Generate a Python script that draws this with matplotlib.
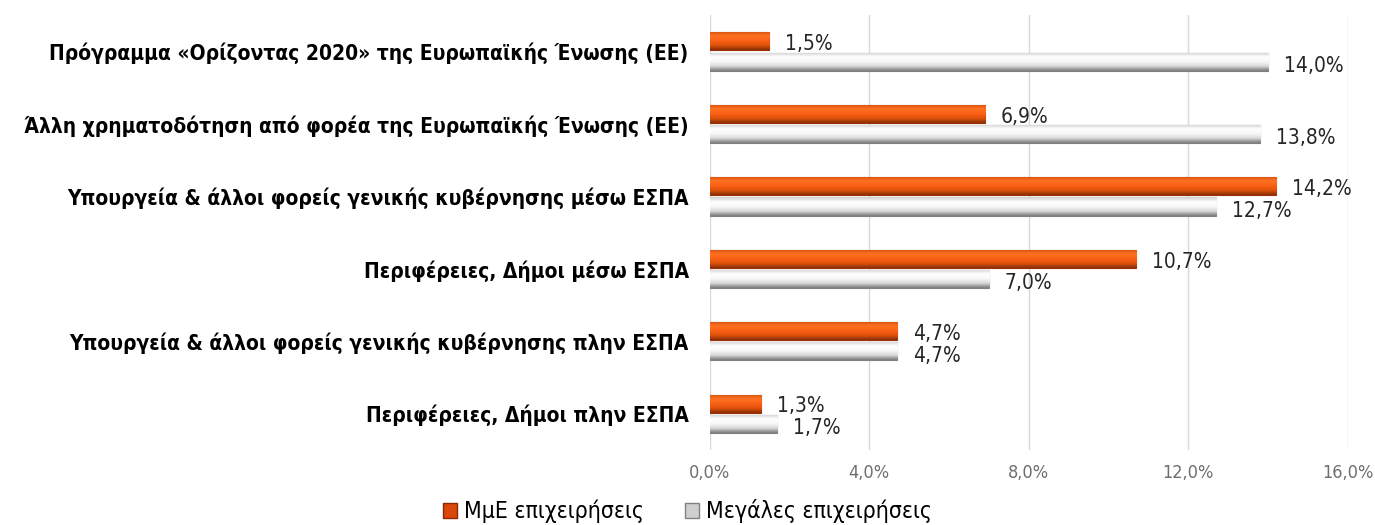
import numpy as np
import matplotlib.pyplot as plt
from matplotlib.colors import LinearSegmentedColormap
from matplotlib.patches import Patch

plt.rcParams['font.family'] = ['DejaVu Sans']
plt.rcParams['font.stretch'] = 'condensed'

categories = [
    'Πρόγραμμα «Ορίζοντας 2020» της Ευρωπαϊκής Ένωσης (ΕΕ)',
    'Άλλη χρηματοδότηση από φορέα της Ευρωπαϊκής Ένωσης (ΕΕ)',
    'Υπουργεία & άλλοι φορείς γενικής κυβέρνησης μέσω ΕΣΠΑ',
    'Περιφέρειες, Δήμοι μέσω ΕΣΠΑ',
    'Υπουργεία & άλλοι φορείς γενικής κυβέρνησης πλην ΕΣΠΑ',
    'Περιφέρειες, Δήμοι πλην ΕΣΠΑ',
]
sme = [1.5, 6.9, 14.2, 10.7, 4.7, 1.3]
large = [14.0, 13.8, 12.7, 7.0, 4.7, 1.7]
series_names = ['ΜμΕ επιχειρήσεις', 'Μεγάλες επιχειρήσεις']
xticks = [0, 4, 8, 12, 16]

fig = plt.figure(figsize=(13.75, 5.25), dpi=100)
ax = fig.add_axes([0.516, 0.143, 0.464, 0.828])

y = np.arange(len(categories))
h = 0.25
b1 = ax.barh(y - 0.14, sme, height=h, color='#E8530E', edgecolor='#9A3006', linewidth=0.8, zorder=3)
b2 = ax.barh(y + 0.14, large, height=h, color='#F2F2F2', edgecolor='#7F7F7F', linewidth=0.8, zorder=3)

# bevel-like vertical gradient on each bar
orange_cm = LinearSegmentedColormap.from_list('o', ['#D0500F', '#FF7322', '#FA6016', '#E0530C', '#8A2E06'])
grey_cm = LinearSegmentedColormap.from_list('g', ['#CFCFCF', '#FFFFFF', '#F8F8F8', '#D8D8D8', '#7A7A7A'])
grad = np.linspace(0, 1, 64).reshape(-1, 1)
for bars, cm in ((b1, orange_cm), (b2, grey_cm)):
    for p in bars:
        x0, y0 = p.get_x(), p.get_y()
        w, hh = p.get_width(), p.get_height()
        im = ax.imshow(grad, cmap=cm, aspect='auto', extent=(x0, x0 + w, y0 + hh, y0),
                       zorder=3.5, interpolation='bicubic')
        im.set_clip_path(p)

for yi, v in zip(y, sme):
    ax.text(v + 0.4, yi - 0.1, f'{v:.1f}%'.replace('.', ','), va='center', ha='left',
            fontsize=15, color='#262626')
for yi, v in zip(y, large):
    ax.text(v + 0.4, yi + 0.2, f'{v:.1f}%'.replace('.', ','), va='center', ha='left',
            fontsize=15, color='#262626')

ax.set_xlim(0, 16)
ax.set_ylim(5.5, -0.5)
ax.set_xticks(xticks)
ax.set_xticklabels([f'{t:.1f}%'.replace('.', ',') for t in xticks], fontsize=13, color='#6E6E6E')
ax.set_yticks(y)
ax.set_yticklabels(categories, fontsize=15, color='black', fontweight='bold')
ax.tick_params(axis='both', length=0)
ax.tick_params(axis='y', pad=15)
ax.tick_params(axis='x', pad=10)
ax.grid(axis='x', color='#D9D9D9', linewidth=1, zorder=0)
for s in ax.spines.values():
    s.set_visible(False)

handles = [Patch(facecolor='#D9480A', edgecolor='#8A2A05'),
           Patch(facecolor='#CFCFCF', edgecolor='#808080')]
fig.legend(handles, series_names, loc='center', bbox_to_anchor=(0.5, 0.026), ncol=2,
           frameon=False, fontsize=16.5, handlelength=0.6, handleheight=0.6,
           handletextpad=0.3, columnspacing=1.8)

plt.savefig('out.png', dpi=100)
